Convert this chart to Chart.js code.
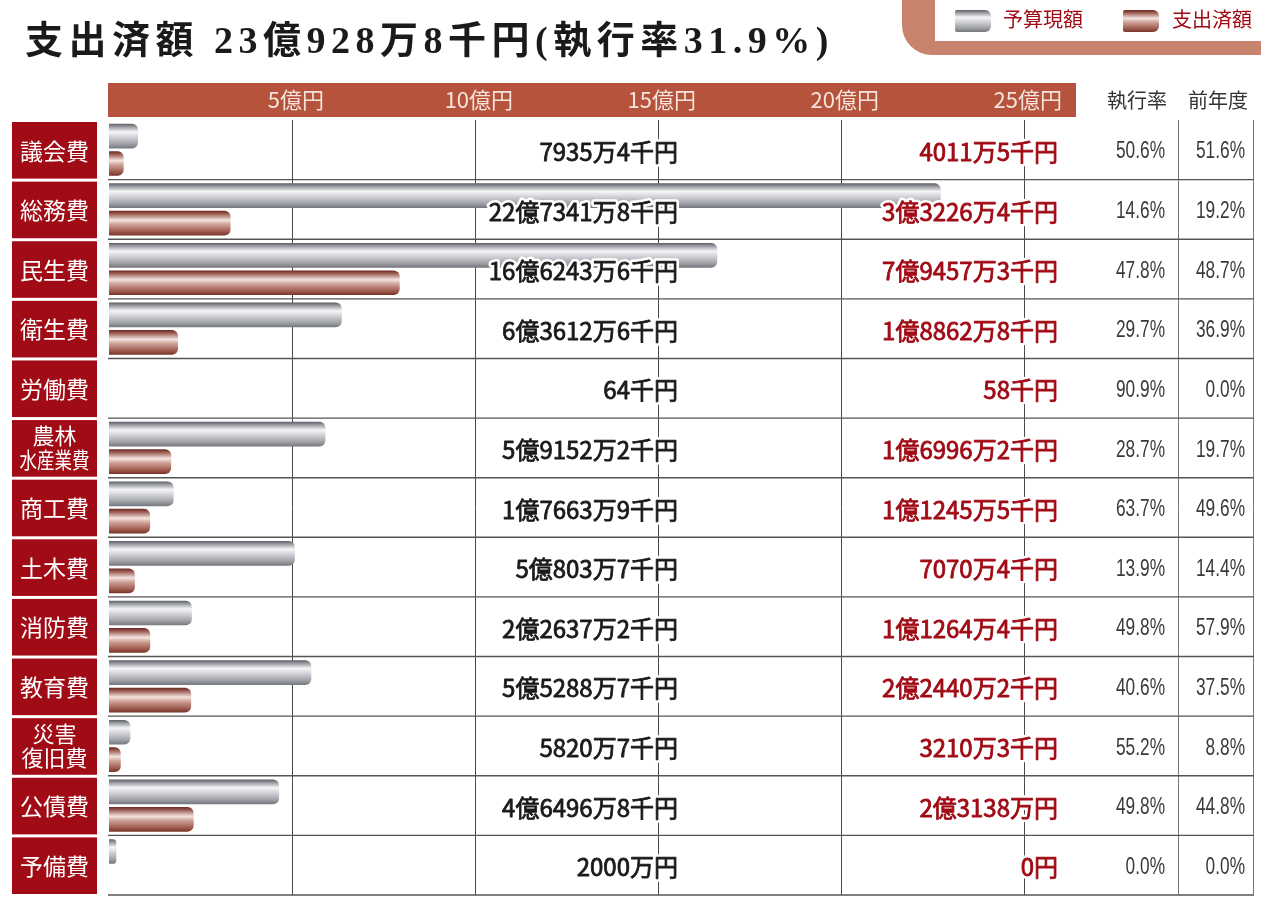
<!DOCTYPE html>
<html lang="ja">
<head>
<meta charset="utf-8">
<title>支出済額</title>
<script src="https://cdn.jsdelivr.net/npm/chart.js@4.4.1/dist/chart.umd.min.js"></script>
<style>
  html, body { margin: 0; padding: 0; background: #fff; }
  #wrap { width: 1261px; height: 897px; }
</style>
</head>
<body>
<div id="wrap"><canvas id="chart" width="1261" height="897"></canvas></div>
<script>
// 款別の予算現額・支出済額（単位：千円）
const categories = ['議会費', '総務費', '民生費', '衛生費', '労働費', ['農林', '水産業費'], '商工費',
  '土木費', '消防費', '教育費', ['災害', '復旧費'], '公債費', '予備費'];
const budget = [79354, 2273418, 1662436, 636126, 64, 591522, 176639, 508037, 226372, 552887, 58207, 464968, 20000];
const spent = [40115, 332264, 794573, 188628, 58, 169962, 112455, 70704, 112644, 224402, 32103, 231380, 0];
const execRate = [50.6, 14.6, 47.8, 29.7, 90.9, 28.7, 63.7, 13.9, 49.8, 40.6, 55.2, 49.8, 0.0];
const prevRate = [51.6, 19.2, 48.7, 36.9, 0.0, 19.7, 49.6, 14.4, 57.9, 37.5, 8.8, 44.8, 0.0];
const tickValues = [5, 10, 15, 20, 25]; // 億円

const RED = '#a00b15';
const grayStops = [[0, '#5c5e66'], [0.1, '#8e9097'], [0.33, '#f5f5f7'], [0.5, '#d8d9dd'], [0.8, '#a3a5ab'], [1, '#74767d']];
const brownStops = [[0, '#6a2820'], [0.12, '#9a5a50'], [0.38, '#f4e4e0'], [0.55, '#cfa298'], [0.85, '#9c584b'], [1, '#763428']];

// 千円 -> 「○億○万○千円」
function yen(v) {
  if (v === 0) return '0円';
  if (v < 1000) return v + '千円';
  const oku = Math.floor(v / 100000);
  const man = Math.floor((v % 100000) / 10);
  const sen = v % 10;
  return (oku ? oku + '億' : '') + (man ? man + '万' : '') + (sen ? sen + '千' : '') + '円';
}

function makeGrad(ctx, top, h, stops) {
  const g = ctx.createLinearGradient(0, top, 0, top + h);
  stops.forEach(s => g.addColorStop(s[0], s[1]));
  return g;
}

// 横方向に詰めて書く
function narrowText(ctx, text, x, y, sx) {
  ctx.save();
  ctx.translate(x, y);
  ctx.scale(sx, 1);
  ctx.fillText(text, 0, 0);
  ctx.restore();
}

// 白フチ付きの金額
function haloText(ctx, text, x, y, color) {
  ctx.strokeStyle = '#fff';
  ctx.lineWidth = 6;
  ctx.strokeText(text, x, y);
  ctx.fillStyle = color;
  ctx.fillText(text, x, y);
  ctx.strokeStyle = color;
  ctx.lineWidth = 0.8;
  ctx.strokeText(text, x, y);
}

const tablePlugin = {
  id: 'table',
  beforeDraw(chart) {
    const ctx = chart.ctx, xs = chart.scales.x, ys = chart.scales.y;
    const area = chart.chartArea;
    ctx.save();

    // タイトル
    ctx.fillStyle = '#1a1a1a';
    ctx.font = 'bold 38px "Liberation Serif", "Noto Sans CJK JP"';
    ctx.textBaseline = 'middle';
    ctx.letterSpacing = '5.5px';
    ctx.fillText('支出済額 23億928万8千円(執行率31.9%)', 25, 43);
    ctx.letterSpacing = '0px';

    // 凡例
    ctx.fillStyle = '#c9836c';
    ctx.beginPath();
    ctx.roundRect(902, -30, 400, 85, [0, 0, 0, 30]);
    ctx.fill();
    ctx.fillStyle = '#fff';
    ctx.fillRect(935, 0, 330, 41);
    [[955, grayStops, '予算現額', 1003], [1123, brownStops, '支出済額', 1172]].forEach(([x, stops, label, tx]) => {
      ctx.fillStyle = makeGrad(ctx, 10, 22, stops);
      ctx.beginPath();
      ctx.roundRect(x, 10, 36, 22, [2, 6, 6, 2]);
      ctx.fill();
      ctx.fillStyle = RED;
      ctx.font = '20px "Liberation Serif", "Noto Sans CJK JP"';
      ctx.textAlign = 'left';
      ctx.fillText(label, tx, 22);
    });

    // 見出し帯
    ctx.fillStyle = '#b5533c';
    ctx.fillRect(area.left - 1, 83, area.right - area.left + 1, 34);
    ctx.fillStyle = '#f6e3dc';
    ctx.font = '22px "Noto Sans CJK JP"';
    ctx.textAlign = 'center';
    tickValues.forEach(v => ctx.fillText(v + '億円', xs.getPixelForValue(v) + 4, 100));
    ctx.fillStyle = '#333';
    ctx.font = '20px "Noto Sans CJK JP"';
    ctx.fillText('執行率', 1137, 100);
    ctx.fillText('前年度', 1218, 100);

    // 款名ラベル
    const step = ys.height / categories.length;
    categories.forEach((c, i) => {
      const cy = ys.getPixelForValue(i);
      const top = cy - step / 2;
      ctx.fillStyle = RED;
      ctx.fillRect(12, top + 2, 85, step - 3);
      ctx.fillStyle = '#fff';
      ctx.textAlign = 'center';
      if (Array.isArray(c)) {
        ctx.font = '22px "Noto Sans CJK JP"';
        c.forEach((line, k) => {
          const w = ctx.measureText(line).width;
          narrowText(ctx, line, 54.5, cy - 12 + k * 24, Math.min(1, 70 / w));
        });
      } else {
        ctx.font = '23px "Noto Sans CJK JP"';
        ctx.fillText(c, 54.5, cy + 1);
      }
    });
    ctx.restore();
  },
  beforeDatasetsDraw(chart) {
    const ctx = chart.ctx, xs = chart.scales.x, ys = chart.scales.y;
    const area = chart.chartArea;
    const step = ys.height / categories.length;
    ctx.save();
    // 縦罫線
    ctx.strokeStyle = '#4a4a4a';
    ctx.lineWidth = 1;
    tickValues.forEach(v => {
      const x = Math.round(xs.getPixelForValue(v)) + 0.5;
      ctx.beginPath();
      ctx.moveTo(x, area.top);
      ctx.lineTo(x, area.bottom);
      ctx.stroke();
    });
    ctx.strokeStyle = '#777';
    [1178.5, 1253.5].forEach(x => {
      ctx.beginPath();
      ctx.moveTo(x, area.top);
      ctx.lineTo(x, area.bottom);
      ctx.stroke();
    });
    // 横罫線
    ctx.strokeStyle = '#555';
    ctx.lineWidth = 1.4;
    categories.forEach((c, i) => {
      const y = ys.getPixelForValue(i) + step / 2;
      ctx.beginPath();
      ctx.moveTo(area.left - 1, y);
      ctx.lineTo(1254, y);
      ctx.stroke();
    });
    ctx.restore();

    // 棒のグラデーション
    chart.data.datasets.forEach((ds, di) => {
      chart.getDatasetMeta(di).data.forEach(bar => {
        const top = bar.y - bar.height / 2;
        bar.options.backgroundColor = makeGrad(ctx, top, bar.height, di === 0 ? grayStops : brownStops);
      });
    });
  },
  afterDatasetsDraw(chart) {
    const ctx = chart.ctx, ys = chart.scales.y;
    ctx.save();
    ctx.textBaseline = 'middle';
    ctx.textAlign = 'right';
    ctx.lineJoin = 'round';
    categories.forEach((c, i) => {
      const cy = ys.getPixelForValue(i) + 2;
      ctx.font = '24px "Noto Sans CJK JP"';
      haloText(ctx, yen(budget[i]), 678, cy, '#1a1a1a');
      haloText(ctx, yen(spent[i]), 1058, cy, RED);

      ctx.font = '24px "Liberation Sans"';
      ctx.fillStyle = '#3a3a3a';
      narrowText(ctx, execRate[i].toFixed(1) + '%', 1165, cy, 0.72);
      narrowText(ctx, prevRate[i].toFixed(1) + '%', 1245, cy, 0.72);
    });
    ctx.restore();
  }
};

new Chart(document.getElementById('chart'), {
  type: 'bar',
  data: {
    labels: categories,
    datasets: [
      {
        label: '予算現額',
        data: budget.map(v => v / 100000),
        backgroundColor: () => '#b0b2b8',
        borderRadius: 6,
        borderSkipped: 'start',
        categoryPercentage: 0.92,
        barPercentage: 0.9
      },
      {
        label: '支出済額',
        data: spent.map(v => v / 100000),
        backgroundColor: () => '#a5675c',
        borderRadius: 6,
        borderSkipped: 'start',
        categoryPercentage: 0.92,
        barPercentage: 0.9
      }
    ]
  },
  options: {
    indexAxis: 'y',
    responsive: false,
    animation: false,
    layout: { padding: { left: 109, right: 185, top: 120, bottom: 2 } },
    scales: {
      x: { display: false, min: 0, max: 26.43 },
      y: { display: false }
    },
    plugins: {
      legend: { display: false },
      tooltip: { enabled: false }
    }
  },
  plugins: [tablePlugin]
});
</script>
</body>
</html>
